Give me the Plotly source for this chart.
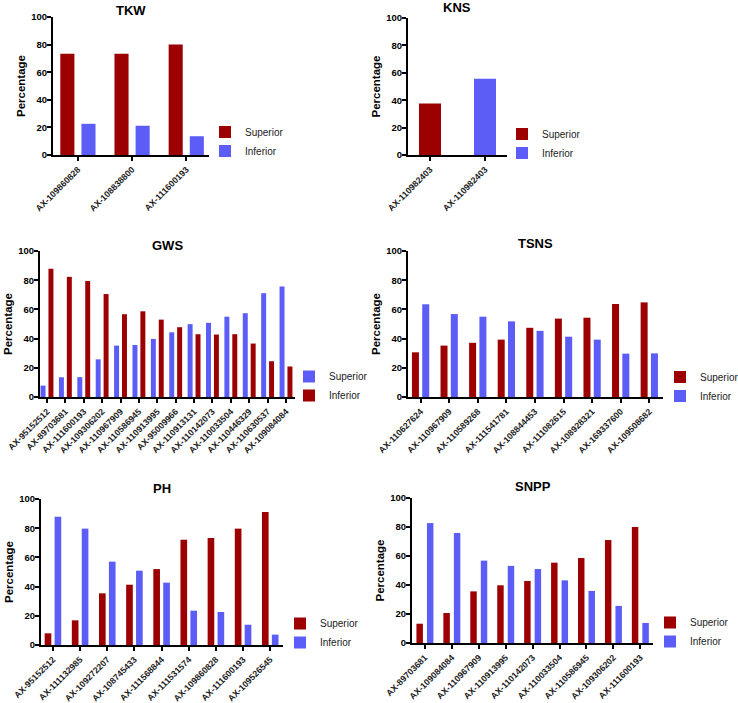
import plotly.graph_objects as go

# ---------------- data ----------------
tkw_markers = ["AX-109860828", "AX-108838800", "AX-111600193"]
tkw_superior = [73.3, 73.3, 80.0]
tkw_inferior = [22.6, 21.2, 13.6]

kns_markers = ["AX-110982403", "AX-110982403"]
kns_superior = [37.5, None]
kns_inferior = [None, 55.6]

gws_markers = ["AX-95152512", "AX-89703681", "AX-111600193", "AX-109306202",
               "AX-110967909", "AX-110586945", "AX-110913995", "AX-95009966",
               "AX-110913131", "AX-110142073", "AX-110033504", "AX-110446329",
               "AX-110630537", "AX-109084084"]
gws_superior = [7.8, 13.5, 13.6, 25.8, 35.2, 35.6, 39.8, 44.3, 49.9, 50.8, 55.0, 57.4, 71.1, 75.7]
gws_inferior = [87.9, 82.3, 79.5, 70.5, 56.7, 58.7, 53.0, 47.8, 43.0, 42.8, 43.0, 36.6, 24.5, 20.9]

tsns_markers = ["AX-110627624", "AX-110967909", "AX-110589268", "AX-111541781",
                "AX-108844453", "AX-111082615", "AX-108928321", "AX-169337600",
                "AX-109508682"]
tsns_superior = [30.6, 35.2, 37.1, 39.3, 47.4, 53.7, 54.3, 63.7, 64.8]
tsns_inferior = [63.5, 56.8, 55.0, 51.8, 45.3, 41.3, 39.3, 29.7, 29.9]

ph_markers = ["AX-95152512", "AX-111132985", "AX-109272207", "AX-108745433",
              "AX-111568844", "AX-111531574", "AX-109860828", "AX-111600193",
              "AX-109526545"]
ph_superior = [8.0, 16.9, 35.4, 41.3, 52.0, 72.1, 73.3, 79.7, 91.1]
ph_inferior = [87.9, 79.7, 57.1, 50.9, 42.7, 23.5, 22.6, 13.9, 7.1]

snpp_markers = ["AX-89703681", "AX-109084084", "AX-110967909", "AX-110913995",
                "AX-110142073", "AX-110033504", "AX-110586945", "AX-109306202",
                "AX-111600193"]
snpp_superior = [13.3, 20.7, 35.6, 39.8, 42.8, 55.4, 58.6, 71.0, 80.0]
snpp_inferior = [82.7, 75.9, 56.8, 53.2, 51.0, 43.2, 35.9, 25.6, 13.8]

# ---------------- style / layout ----------------
RED = "#9C0000"
BLUE = "#5C5CF6"
W, H = 738, 703
FONT = "Arial, Liberation Sans, sans-serif"


def fx(p):
    return p / W


def fy(p):
    return 1 - p / H


panels = [
    dict(title="TKW", markers=tkw_markers,
         series=[("Superior", tkw_superior, RED), ("Inferior", tkw_inferior, BLUE)],
         box=(53, 17, 209, 155), xr=(-0.46, 2.42), bw=0.26, gap=0.13,
         ty=10.5, leg=(205, 141.5), grouped=True),
    dict(title="KNS", markers=kns_markers,
         series=[("Superior", kns_superior, RED), ("Inferior", kns_inferior, BLUE)],
         box=(408, 18, 507, 155), xr=(-0.4, 1.4), bw=0.4, gap=0.0,
         ty=7.5, leg=(502, 143.5), grouped=False),
    dict(title="GWS", markers=gws_markers,
         series=[("Superior", gws_superior, BLUE), ("Inferior", gws_inferior, RED)],
         box=(40, 251, 295, 397), xr=(-0.38, 13.49), bw=0.27, gap=0.16,
         ty=245, leg=(289, 386), grouped=True),
    dict(title="TSNS", markers=tsns_markers,
         series=[("Superior", tsns_superior, RED), ("Inferior", tsns_inferior, BLUE)],
         box=(408, 251, 663, 397), xr=(-0.44, 8.48), bw=0.245, gap=0.115,
         ty=243.5, leg=(660, 386.5), grouped=True),
    dict(title="PH", markers=ph_markers,
         series=[("Superior", ph_superior, RED), ("Inferior", ph_inferior, BLUE)],
         box=(41, 499, 283, 645), xr=(-0.44, 8.47), bw=0.245, gap=0.12,
         ty=488, leg=(280, 633), grouped=True),
    dict(title="SNPP", markers=snpp_markers,
         series=[("Superior", snpp_superior, RED), ("Inferior", snpp_inferior, BLUE)],
         box=(412, 498, 653, 643), xr=(-0.48, 8.47), bw=0.24, gap=0.15,
         ty=486, leg=(650, 632), grouped=True),
]

fig = go.Figure()
layout = dict(
    width=W, height=H, autosize=False,
    margin=dict(l=0, r=0, t=0, b=0, pad=0, autoexpand=False),
    paper_bgcolor="white", plot_bgcolor="white",
    barmode="overlay",
    font=dict(family=FONT, color="black"),
    annotations=[],
)

for i, p in enumerate(panels, start=1):
    sfx = "" if i == 1 else str(i)
    xa, ya = "x" + sfx, "y" + sfx
    leg = "legend" + sfx
    xpos = list(range(len(p["markers"])))
    for k, (name, vals, col) in enumerate(p["series"]):
        if p["grouped"]:
            off = -p["gap"] / 2 - p["bw"] if k == 0 else p["gap"] / 2
        else:
            off = -p["bw"] / 2
        fig.add_trace(go.Bar(
            x=xpos, y=vals, name=name, marker=dict(color=col, line=dict(width=0)),
            width=p["bw"], offset=off, xaxis=xa, yaxis=ya, legend=leg,
            hovertemplate="%{y}<extra>" + name + "</extra>",
        ))
    l, t, r, b = p["box"]
    layout["xaxis" + sfx] = dict(
        domain=[fx(l), fx(r)], anchor=ya, range=list(p["xr"]), automargin=False,
        tickmode="array", tickvals=xpos, ticktext=p["markers"], tickangle=-45,
        showline=True, linecolor="black", linewidth=2,
        ticks="outside", ticklen=4, tickwidth=1.5, tickcolor="black",
        showgrid=False, zeroline=False,
        tickfont=dict(family=FONT, size=8.8, color="#1a1a1a", weight="bold"),
    )
    layout["yaxis" + sfx] = dict(
        domain=[fy(b), fy(t)], anchor=xa, range=[0, 100], automargin=False,
        tickmode="array", tickvals=[0, 20, 40, 60, 80, 100],
        showline=True, linecolor="black", linewidth=2,
        ticks="outside", ticklen=4, tickwidth=1.5, tickcolor="black",
        ticklabelstandoff=-2,
        showgrid=False, zeroline=False,
        tickfont=dict(family=FONT, size=9.5, color="black", weight="bold"),
        title=dict(text="Percentage", standoff=3,
                   font=dict(family=FONT, size=11.5, color="black", weight="bold")),
    )
    lx, ly = p["leg"]
    layout[leg] = dict(
        x=fx(lx), y=fy(ly), xanchor="left", yanchor="middle",
        bgcolor="rgba(0,0,0,0)", borderwidth=0, tracegroupgap=0,
        font=dict(family=FONT, size=10, color="#222"),
    )
    layout["annotations"].append(dict(
        text="<b>" + p["title"] + "</b>", xref="paper", yref="paper",
        x=fx((l + r) / 2), y=fy(p["ty"]), xanchor="center", yanchor="middle",
        showarrow=False, font=dict(family=FONT, size=13, color="black"),
    ))

fig.update_layout(**layout)
fig.write_html("out.html", config={"displayModeBar": False},
               post_script="document.body.style.margin='0px';")
